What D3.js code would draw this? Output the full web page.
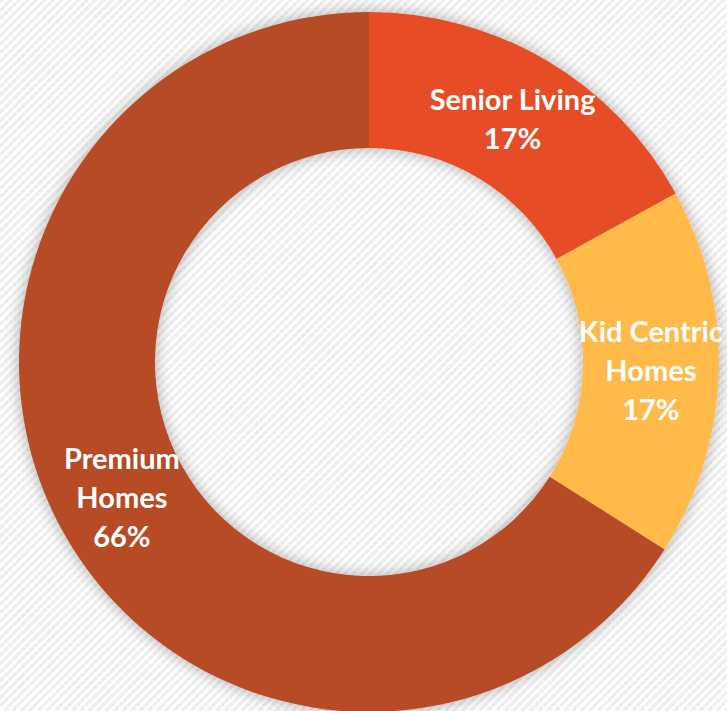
<!DOCTYPE html>
<html>
<head>
<meta charset="utf-8">
<script src="https://cdn.jsdelivr.net/npm/d3@7"></script>
<style>
  html, body { margin: 0; padding: 0; background: #ffffff; }
  svg { display: block; }
</style>
</head>
<body>
<div id="chart"></div>
<script>
// Segments of the housing mix
const categories = ["Senior Living", "Kid Centric Homes", "Premium Homes"];
const labelLines = [["Senior Living"], ["Kid Centric", "Homes"], ["Premium", "Homes"]];
const shares = [17, 17, 66];
const sliceColors = ["#E64E25", "#FFBA4A", "#B64B26"];

const width = 727, height = 711;
const cx = 369, cy = 362;
const outerR = 350, innerR = 214;

const svg = d3.select("#chart").append("svg")
  .attr("width", width).attr("height", height);

const defs = svg.append("defs");

// Fine diagonal weave texture for the background
const pat = defs.append("pattern")
  .attr("id", "weave")
  .attr("patternUnits", "userSpaceOnUse")
  .attr("width", 6).attr("height", 6)
  .attr("patternTransform", "rotate(45)");
pat.append("rect").attr("width", 6).attr("height", 6).attr("fill", "#ffffff");
pat.append("rect").attr("x", 0).attr("y", 0).attr("width", 3).attr("height", 6).attr("fill", "#ebebeb");
pat.append("rect").attr("x", 0).attr("y", 0).attr("width", 3).attr("height", 3).attr("fill", "#f2f2f2");

// Soft glow shadow around the ring
const shadow = defs.append("filter")
  .attr("id", "ringShadow")
  .attr("x", "-10%").attr("y", "-10%")
  .attr("width", "120%").attr("height", "120%");
shadow.append("feDropShadow")
  .attr("dx", 0).attr("dy", 0)
  .attr("stdDeviation", 8)
  .attr("flood-color", "#000000")
  .attr("flood-opacity", 0.32);

svg.append("rect")
  .attr("width", width).attr("height", height)
  .attr("fill", "url(#weave)");

const pie = d3.pie().sort(null).value(d => d);
const arcs = pie(shares);

const arc = d3.arc().innerRadius(innerR).outerRadius(outerR);

const g = svg.append("g").attr("transform", `translate(${cx},${cy})`);

g.append("g")
  .attr("filter", "url(#ringShadow)")
  .selectAll("path")
  .data(arcs)
  .join("path")
  .attr("d", arc)
  .attr("fill", (d, i) => sliceColors[i]);

// Category name and percentage, stacked at each slice centroid
const lineGap = 39;
const labels = g.append("g").selectAll("text")
  .data(arcs)
  .join("text")
  .attr("transform", d => `translate(${arc.centroid(d)})`)
  .attr("text-anchor", "middle")
  .attr("fill", "#ffffff")
  .style("font-family", "Lato, 'Open Sans', sans-serif")
  .style("font-weight", 700)
  .style("font-size", "29px");

labels.each(function(d, i) {
  const lines = labelLines[i].concat([d3.format(".0f")(shares[i]) + "%"]);
  const n = lines.length;
  d3.select(this).selectAll("tspan")
    .data(lines)
    .join("tspan")
    .attr("x", 0)
    .attr("y", (t, k) => (k - (n - 1) / 2) * lineGap)
    .attr("dy", "0.35em")
    .text(t => t);
});
</script>
</body>
</html>
